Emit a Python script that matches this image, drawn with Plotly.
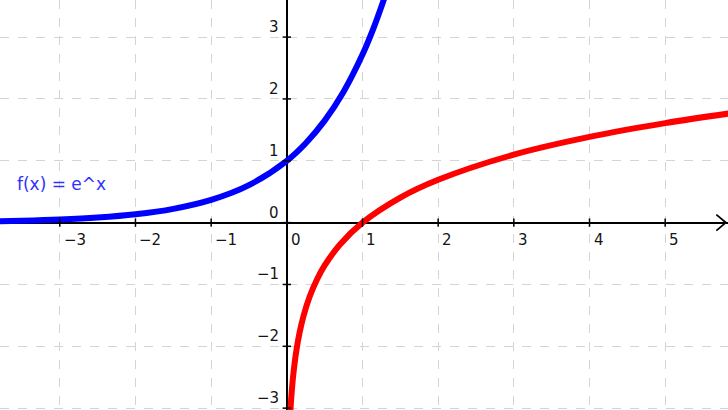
import plotly.graph_objects as go

# Values
exp_x = [-3.8, -3.5, -3.0, -2.5, -2.0, -1.5, -1.0, -0.5, 0.0, 0.25, 0.5, 0.75, 1.0, 1.15, 1.3]
exp_y = [0.022, 0.030, 0.050, 0.082, 0.135, 0.223, 0.368, 0.607, 1.0, 1.284, 1.649, 2.117, 2.718, 3.158, 3.669]

log_x = [0.048, 0.06, 0.08, 0.1, 0.13, 0.17, 0.22, 0.3, 0.4, 0.5, 0.7, 1.0, 1.5, 2.0, 3.0, 4.0, 5.0, 5.9]
log_y = [-3.036, -2.813, -2.526, -2.303, -2.040, -1.772, -1.514, -1.204, -0.916, -0.693, -0.357, 0.0,
         0.405, 0.693, 1.099, 1.386, 1.609, 1.775]

x_ticks = [-3, -2, -1, 0, 1, 2, 3, 4, 5]
x_tick_labels = ["\u22123", "\u22122", "\u22121", "0", "1", "2", "3", "4", "5"]
y_ticks = [-3, -2, -1, 0, 1, 2, 3]
y_tick_labels = ["\u22123", "\u22122", "\u22121", "0", "1", "2", "3"]

func_label = "f(x) = e^x"

FONT = "DejaVu Sans"
TXT = "#141414"

fig = go.Figure()

fig.add_trace(go.Scatter(x=exp_x, y=exp_y, mode="lines", line=dict(color="#0000ff", width=6, shape="spline"),
                         hoverinfo="skip"))
fig.add_trace(go.Scatter(x=log_x, y=log_y, mode="lines", line=dict(color="#ff0000", width=6, shape="spline"),
                         hoverinfo="skip"))

# small tick marks on the axes
fig.add_trace(go.Scatter(x=x_ticks, y=[0] * len(x_ticks), mode="markers",
                         marker=dict(symbol="line-ns-open", size=6, color="black", line=dict(color="black", width=1.5)),
                         hoverinfo="skip"))
fig.add_trace(go.Scatter(x=[0] * len(y_ticks), y=y_ticks, mode="markers",
                         marker=dict(symbol="line-ew-open", size=6, color="black", line=dict(color="black", width=1.5)),
                         hoverinfo="skip"))

annotations = []
for v, t in zip(x_ticks, x_tick_labels):
    annotations.append(dict(x=v, y=0, xref="x", yref="y", text=t, showarrow=False,
                            xanchor="left", yanchor="top", xshift=2, yshift=-6,
                            font=dict(family=FONT, size=15, color=TXT)))
for v, t in zip(y_ticks, y_tick_labels):
    annotations.append(dict(x=0, y=v, xref="x", yref="y", text=t, showarrow=False,
                            xanchor="right", yanchor="middle", xshift=-6, yshift=10,
                            font=dict(family=FONT, size=15, color=TXT)))
annotations.append(dict(x=-3.59, y=0.63, xref="x", yref="y", text=func_label, showarrow=False,
                        xanchor="left", yanchor="middle",
                        font=dict(family=FONT, size=17, color="#3030ff")))

shapes = [
    dict(type="path", xref="paper", yref="y", path="M 0.984,0.13 L 0.997,0 L 0.984,-0.13",
         line=dict(color="black", width=1.8)),
]

fig.update_layout(
    width=728, height=410,
    margin=dict(l=0, r=0, t=0, b=0),
    paper_bgcolor="white", plot_bgcolor="white",
    showlegend=False,
    annotations=annotations,
    shapes=shapes,
    xaxis=dict(range=[-3.79, 5.83], tickvals=x_ticks, showticklabels=False, ticks="",
               showgrid=True, gridcolor="#d4d4d4", gridwidth=1, griddash="dash",
               zeroline=True, zerolinecolor="black", zerolinewidth=1.5, showline=False, fixedrange=True),
    yaxis=dict(range=[-3.03, 3.60], tickvals=y_ticks, showticklabels=False, ticks="",
               showgrid=True, gridcolor="#d4d4d4", gridwidth=1, griddash="dash",
               zeroline=True, zerolinecolor="black", zerolinewidth=1.5, showline=False, fixedrange=True),
)

fig.write_html("out.html", config={"displayModeBar": False},
               post_script="document.body.style.margin='0px';document.body.style.overflow='hidden';")
